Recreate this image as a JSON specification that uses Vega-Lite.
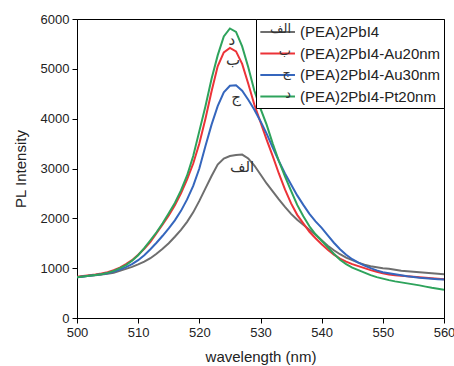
{
  "$schema": "https://vega.github.io/schema/vega-lite/v6.json",
  "autosize": "none",
  "width": 367,
  "height": 299,
  "padding": {"left": 77, "top": 19, "right": 10, "bottom": 48},
  "background": "white",
  "config": {
    "font": "Liberation Sans",
    "view": {"stroke": "#000", "strokeWidth": 1},
    "axis": {"domainColor": "#000", "tickColor": "#000", "labelColor": "#222", "titleColor": "#222", "grid": false, "labelFontSize": 13, "titleFontSize": 15, "titleFontWeight": "normal", "labelFont": "Liberation Sans", "titleFont": "Liberation Sans"},
    "legend": {"labelFont": "Liberation Sans"}
  },
  "datasets": {
    "spec": [
      {"w":500,"s":"(PEA)2PbI4","v":820},{"w":501,"s":"(PEA)2PbI4","v":835},{"w":502,"s":"(PEA)2PbI4","v":850},{"w":503,"s":"(PEA)2PbI4","v":860},{"w":504,"s":"(PEA)2PbI4","v":875},{"w":505,"s":"(PEA)2PbI4","v":890},{"w":506,"s":"(PEA)2PbI4","v":910},{"w":507,"s":"(PEA)2PbI4","v":945},{"w":508,"s":"(PEA)2PbI4","v":985},{"w":509,"s":"(PEA)2PbI4","v":1025},{"w":510,"s":"(PEA)2PbI4","v":1075},{"w":511,"s":"(PEA)2PbI4","v":1130},{"w":512,"s":"(PEA)2PbI4","v":1200},{"w":513,"s":"(PEA)2PbI4","v":1290},{"w":514,"s":"(PEA)2PbI4","v":1390},{"w":515,"s":"(PEA)2PbI4","v":1500},{"w":516,"s":"(PEA)2PbI4","v":1630},{"w":517,"s":"(PEA)2PbI4","v":1770},{"w":518,"s":"(PEA)2PbI4","v":1930},{"w":519,"s":"(PEA)2PbI4","v":2120},{"w":520,"s":"(PEA)2PbI4","v":2350},{"w":521,"s":"(PEA)2PbI4","v":2600},{"w":522,"s":"(PEA)2PbI4","v":2850},{"w":523,"s":"(PEA)2PbI4","v":3080},{"w":524,"s":"(PEA)2PbI4","v":3200},{"w":525,"s":"(PEA)2PbI4","v":3250},{"w":526,"s":"(PEA)2PbI4","v":3270},{"w":527,"s":"(PEA)2PbI4","v":3280},{"w":528,"s":"(PEA)2PbI4","v":3200},{"w":529,"s":"(PEA)2PbI4","v":3060},{"w":530,"s":"(PEA)2PbI4","v":2880},{"w":531,"s":"(PEA)2PbI4","v":2700},{"w":532,"s":"(PEA)2PbI4","v":2540},{"w":533,"s":"(PEA)2PbI4","v":2380},{"w":534,"s":"(PEA)2PbI4","v":2230},{"w":535,"s":"(PEA)2PbI4","v":2090},{"w":536,"s":"(PEA)2PbI4","v":1970},{"w":537,"s":"(PEA)2PbI4","v":1870},{"w":538,"s":"(PEA)2PbI4","v":1770},{"w":539,"s":"(PEA)2PbI4","v":1670},{"w":540,"s":"(PEA)2PbI4","v":1560},{"w":541,"s":"(PEA)2PbI4","v":1450},{"w":542,"s":"(PEA)2PbI4","v":1360},{"w":543,"s":"(PEA)2PbI4","v":1280},{"w":544,"s":"(PEA)2PbI4","v":1210},{"w":545,"s":"(PEA)2PbI4","v":1160},{"w":546,"s":"(PEA)2PbI4","v":1110},{"w":547,"s":"(PEA)2PbI4","v":1070},{"w":548,"s":"(PEA)2PbI4","v":1040},{"w":549,"s":"(PEA)2PbI4","v":1020},{"w":550,"s":"(PEA)2PbI4","v":1000},{"w":551,"s":"(PEA)2PbI4","v":990},{"w":552,"s":"(PEA)2PbI4","v":970},{"w":553,"s":"(PEA)2PbI4","v":950},{"w":554,"s":"(PEA)2PbI4","v":940},{"w":555,"s":"(PEA)2PbI4","v":930},{"w":556,"s":"(PEA)2PbI4","v":920},{"w":557,"s":"(PEA)2PbI4","v":910},{"w":558,"s":"(PEA)2PbI4","v":900},{"w":559,"s":"(PEA)2PbI4","v":890},{"w":560,"s":"(PEA)2PbI4","v":880},

      {"w":500,"s":"(PEA)2PbI4-Au20nm","v":830},{"w":501,"s":"(PEA)2PbI4-Au20nm","v":845},{"w":502,"s":"(PEA)2PbI4-Au20nm","v":860},{"w":503,"s":"(PEA)2PbI4-Au20nm","v":875},{"w":504,"s":"(PEA)2PbI4-Au20nm","v":895},{"w":505,"s":"(PEA)2PbI4-Au20nm","v":920},{"w":506,"s":"(PEA)2PbI4-Au20nm","v":960},{"w":507,"s":"(PEA)2PbI4-Au20nm","v":1010},{"w":508,"s":"(PEA)2PbI4-Au20nm","v":1080},{"w":509,"s":"(PEA)2PbI4-Au20nm","v":1160},{"w":510,"s":"(PEA)2PbI4-Au20nm","v":1270},{"w":511,"s":"(PEA)2PbI4-Au20nm","v":1390},{"w":512,"s":"(PEA)2PbI4-Au20nm","v":1530},{"w":513,"s":"(PEA)2PbI4-Au20nm","v":1700},{"w":514,"s":"(PEA)2PbI4-Au20nm","v":1880},{"w":515,"s":"(PEA)2PbI4-Au20nm","v":2060},{"w":516,"s":"(PEA)2PbI4-Au20nm","v":2260},{"w":517,"s":"(PEA)2PbI4-Au20nm","v":2500},{"w":518,"s":"(PEA)2PbI4-Au20nm","v":2780},{"w":519,"s":"(PEA)2PbI4-Au20nm","v":3100},{"w":520,"s":"(PEA)2PbI4-Au20nm","v":3500},{"w":521,"s":"(PEA)2PbI4-Au20nm","v":4000},{"w":522,"s":"(PEA)2PbI4-Au20nm","v":4550},{"w":523,"s":"(PEA)2PbI4-Au20nm","v":5050},{"w":524,"s":"(PEA)2PbI4-Au20nm","v":5330},{"w":525,"s":"(PEA)2PbI4-Au20nm","v":5420},{"w":526,"s":"(PEA)2PbI4-Au20nm","v":5350},{"w":527,"s":"(PEA)2PbI4-Au20nm","v":5100},{"w":528,"s":"(PEA)2PbI4-Au20nm","v":4700},{"w":529,"s":"(PEA)2PbI4-Au20nm","v":4280},{"w":530,"s":"(PEA)2PbI4-Au20nm","v":3930},{"w":531,"s":"(PEA)2PbI4-Au20nm","v":3580},{"w":532,"s":"(PEA)2PbI4-Au20nm","v":3250},{"w":533,"s":"(PEA)2PbI4-Au20nm","v":2900},{"w":534,"s":"(PEA)2PbI4-Au20nm","v":2580},{"w":535,"s":"(PEA)2PbI4-Au20nm","v":2300},{"w":536,"s":"(PEA)2PbI4-Au20nm","v":2070},{"w":537,"s":"(PEA)2PbI4-Au20nm","v":1900},{"w":538,"s":"(PEA)2PbI4-Au20nm","v":1730},{"w":539,"s":"(PEA)2PbI4-Au20nm","v":1600},{"w":540,"s":"(PEA)2PbI4-Au20nm","v":1480},{"w":541,"s":"(PEA)2PbI4-Au20nm","v":1370},{"w":542,"s":"(PEA)2PbI4-Au20nm","v":1270},{"w":543,"s":"(PEA)2PbI4-Au20nm","v":1190},{"w":544,"s":"(PEA)2PbI4-Au20nm","v":1130},{"w":545,"s":"(PEA)2PbI4-Au20nm","v":1080},{"w":546,"s":"(PEA)2PbI4-Au20nm","v":1040},{"w":547,"s":"(PEA)2PbI4-Au20nm","v":1000},{"w":548,"s":"(PEA)2PbI4-Au20nm","v":960},{"w":549,"s":"(PEA)2PbI4-Au20nm","v":930},{"w":550,"s":"(PEA)2PbI4-Au20nm","v":900},{"w":551,"s":"(PEA)2PbI4-Au20nm","v":875},{"w":552,"s":"(PEA)2PbI4-Au20nm","v":860},{"w":553,"s":"(PEA)2PbI4-Au20nm","v":850},{"w":554,"s":"(PEA)2PbI4-Au20nm","v":840},{"w":555,"s":"(PEA)2PbI4-Au20nm","v":830},{"w":556,"s":"(PEA)2PbI4-Au20nm","v":820},{"w":557,"s":"(PEA)2PbI4-Au20nm","v":810},{"w":558,"s":"(PEA)2PbI4-Au20nm","v":800},{"w":559,"s":"(PEA)2PbI4-Au20nm","v":790},{"w":560,"s":"(PEA)2PbI4-Au20nm","v":780},

      {"w":500,"s":"(PEA)2PbI4-Au30nm","v":820},{"w":501,"s":"(PEA)2PbI4-Au30nm","v":835},{"w":502,"s":"(PEA)2PbI4-Au30nm","v":850},{"w":503,"s":"(PEA)2PbI4-Au30nm","v":865},{"w":504,"s":"(PEA)2PbI4-Au30nm","v":880},{"w":505,"s":"(PEA)2PbI4-Au30nm","v":900},{"w":506,"s":"(PEA)2PbI4-Au30nm","v":930},{"w":507,"s":"(PEA)2PbI4-Au30nm","v":970},{"w":508,"s":"(PEA)2PbI4-Au30nm","v":1020},{"w":509,"s":"(PEA)2PbI4-Au30nm","v":1080},{"w":510,"s":"(PEA)2PbI4-Au30nm","v":1160},{"w":511,"s":"(PEA)2PbI4-Au30nm","v":1260},{"w":512,"s":"(PEA)2PbI4-Au30nm","v":1380},{"w":513,"s":"(PEA)2PbI4-Au30nm","v":1510},{"w":514,"s":"(PEA)2PbI4-Au30nm","v":1650},{"w":515,"s":"(PEA)2PbI4-Au30nm","v":1800},{"w":516,"s":"(PEA)2PbI4-Au30nm","v":1960},{"w":517,"s":"(PEA)2PbI4-Au30nm","v":2150},{"w":518,"s":"(PEA)2PbI4-Au30nm","v":2380},{"w":519,"s":"(PEA)2PbI4-Au30nm","v":2650},{"w":520,"s":"(PEA)2PbI4-Au30nm","v":3000},{"w":521,"s":"(PEA)2PbI4-Au30nm","v":3450},{"w":522,"s":"(PEA)2PbI4-Au30nm","v":3880},{"w":523,"s":"(PEA)2PbI4-Au30nm","v":4250},{"w":524,"s":"(PEA)2PbI4-Au30nm","v":4530},{"w":525,"s":"(PEA)2PbI4-Au30nm","v":4660},{"w":526,"s":"(PEA)2PbI4-Au30nm","v":4670},{"w":527,"s":"(PEA)2PbI4-Au30nm","v":4560},{"w":528,"s":"(PEA)2PbI4-Au30nm","v":4380},{"w":529,"s":"(PEA)2PbI4-Au30nm","v":4180},{"w":530,"s":"(PEA)2PbI4-Au30nm","v":3950},{"w":531,"s":"(PEA)2PbI4-Au30nm","v":3700},{"w":532,"s":"(PEA)2PbI4-Au30nm","v":3420},{"w":533,"s":"(PEA)2PbI4-Au30nm","v":3150},{"w":534,"s":"(PEA)2PbI4-Au30nm","v":2900},{"w":535,"s":"(PEA)2PbI4-Au30nm","v":2680},{"w":536,"s":"(PEA)2PbI4-Au30nm","v":2460},{"w":537,"s":"(PEA)2PbI4-Au30nm","v":2270},{"w":538,"s":"(PEA)2PbI4-Au30nm","v":2090},{"w":539,"s":"(PEA)2PbI4-Au30nm","v":1940},{"w":540,"s":"(PEA)2PbI4-Au30nm","v":1810},{"w":541,"s":"(PEA)2PbI4-Au30nm","v":1660},{"w":542,"s":"(PEA)2PbI4-Au30nm","v":1510},{"w":543,"s":"(PEA)2PbI4-Au30nm","v":1380},{"w":544,"s":"(PEA)2PbI4-Au30nm","v":1270},{"w":545,"s":"(PEA)2PbI4-Au30nm","v":1180},{"w":546,"s":"(PEA)2PbI4-Au30nm","v":1110},{"w":547,"s":"(PEA)2PbI4-Au30nm","v":1050},{"w":548,"s":"(PEA)2PbI4-Au30nm","v":1000},{"w":549,"s":"(PEA)2PbI4-Au30nm","v":955},{"w":550,"s":"(PEA)2PbI4-Au30nm","v":920},{"w":551,"s":"(PEA)2PbI4-Au30nm","v":900},{"w":552,"s":"(PEA)2PbI4-Au30nm","v":880},{"w":553,"s":"(PEA)2PbI4-Au30nm","v":860},{"w":554,"s":"(PEA)2PbI4-Au30nm","v":840},{"w":555,"s":"(PEA)2PbI4-Au30nm","v":825},{"w":556,"s":"(PEA)2PbI4-Au30nm","v":810},{"w":557,"s":"(PEA)2PbI4-Au30nm","v":800},{"w":558,"s":"(PEA)2PbI4-Au30nm","v":790},{"w":559,"s":"(PEA)2PbI4-Au30nm","v":780},{"w":560,"s":"(PEA)2PbI4-Au30nm","v":770},

      {"w":500,"s":"(PEA)2PbI4-Pt20nm","v":820},{"w":501,"s":"(PEA)2PbI4-Pt20nm","v":835},{"w":502,"s":"(PEA)2PbI4-Pt20nm","v":850},{"w":503,"s":"(PEA)2PbI4-Pt20nm","v":865},{"w":504,"s":"(PEA)2PbI4-Pt20nm","v":880},{"w":505,"s":"(PEA)2PbI4-Pt20nm","v":905},{"w":506,"s":"(PEA)2PbI4-Pt20nm","v":945},{"w":507,"s":"(PEA)2PbI4-Pt20nm","v":1000},{"w":508,"s":"(PEA)2PbI4-Pt20nm","v":1060},{"w":509,"s":"(PEA)2PbI4-Pt20nm","v":1150},{"w":510,"s":"(PEA)2PbI4-Pt20nm","v":1260},{"w":511,"s":"(PEA)2PbI4-Pt20nm","v":1400},{"w":512,"s":"(PEA)2PbI4-Pt20nm","v":1560},{"w":513,"s":"(PEA)2PbI4-Pt20nm","v":1720},{"w":514,"s":"(PEA)2PbI4-Pt20nm","v":1900},{"w":515,"s":"(PEA)2PbI4-Pt20nm","v":2100},{"w":516,"s":"(PEA)2PbI4-Pt20nm","v":2310},{"w":517,"s":"(PEA)2PbI4-Pt20nm","v":2560},{"w":518,"s":"(PEA)2PbI4-Pt20nm","v":2860},{"w":519,"s":"(PEA)2PbI4-Pt20nm","v":3250},{"w":520,"s":"(PEA)2PbI4-Pt20nm","v":3750},{"w":521,"s":"(PEA)2PbI4-Pt20nm","v":4250},{"w":522,"s":"(PEA)2PbI4-Pt20nm","v":4800},{"w":523,"s":"(PEA)2PbI4-Pt20nm","v":5270},{"w":524,"s":"(PEA)2PbI4-Pt20nm","v":5650},{"w":525,"s":"(PEA)2PbI4-Pt20nm","v":5810},{"w":526,"s":"(PEA)2PbI4-Pt20nm","v":5740},{"w":527,"s":"(PEA)2PbI4-Pt20nm","v":5450},{"w":528,"s":"(PEA)2PbI4-Pt20nm","v":5030},{"w":529,"s":"(PEA)2PbI4-Pt20nm","v":4560},{"w":530,"s":"(PEA)2PbI4-Pt20nm","v":4200},{"w":531,"s":"(PEA)2PbI4-Pt20nm","v":3880},{"w":532,"s":"(PEA)2PbI4-Pt20nm","v":3500},{"w":533,"s":"(PEA)2PbI4-Pt20nm","v":3150},{"w":534,"s":"(PEA)2PbI4-Pt20nm","v":2840},{"w":535,"s":"(PEA)2PbI4-Pt20nm","v":2550},{"w":536,"s":"(PEA)2PbI4-Pt20nm","v":2270},{"w":537,"s":"(PEA)2PbI4-Pt20nm","v":2040},{"w":538,"s":"(PEA)2PbI4-Pt20nm","v":1840},{"w":539,"s":"(PEA)2PbI4-Pt20nm","v":1680},{"w":540,"s":"(PEA)2PbI4-Pt20nm","v":1550},{"w":541,"s":"(PEA)2PbI4-Pt20nm","v":1420},{"w":542,"s":"(PEA)2PbI4-Pt20nm","v":1290},{"w":543,"s":"(PEA)2PbI4-Pt20nm","v":1170},{"w":544,"s":"(PEA)2PbI4-Pt20nm","v":1080},{"w":545,"s":"(PEA)2PbI4-Pt20nm","v":1010},{"w":546,"s":"(PEA)2PbI4-Pt20nm","v":960},{"w":547,"s":"(PEA)2PbI4-Pt20nm","v":910},{"w":548,"s":"(PEA)2PbI4-Pt20nm","v":860},{"w":549,"s":"(PEA)2PbI4-Pt20nm","v":820},{"w":550,"s":"(PEA)2PbI4-Pt20nm","v":790},{"w":551,"s":"(PEA)2PbI4-Pt20nm","v":760},{"w":552,"s":"(PEA)2PbI4-Pt20nm","v":735},{"w":553,"s":"(PEA)2PbI4-Pt20nm","v":715},{"w":554,"s":"(PEA)2PbI4-Pt20nm","v":695},{"w":555,"s":"(PEA)2PbI4-Pt20nm","v":675},{"w":556,"s":"(PEA)2PbI4-Pt20nm","v":655},{"w":557,"s":"(PEA)2PbI4-Pt20nm","v":630},{"w":558,"s":"(PEA)2PbI4-Pt20nm","v":605},{"w":559,"s":"(PEA)2PbI4-Pt20nm","v":585},{"w":560,"s":"(PEA)2PbI4-Pt20nm","v":565}
    ],
    "tags": [
      {"w":525.3,"v":5810,"t":"د"},
      {"w":525.5,"v":5420,"t":"ب"},
      {"w":526.0,"v":4670,"t":"ج"},
      {"w":527.0,"v":3280,"t":"الف"}
    ]
  },
  "layer": [
    {
      "data": {"name": "spec"},
      "mark": {"type": "line", "strokeWidth": 2, "clip": true},
      "encoding": {
        "x": {"field": "w", "type": "quantitative", "scale": {"domain": [500, 560], "nice": false},
              "axis": {"title": "wavelength (nm)", "values": [500,505,510,515,520,525,530,535,540,545,550,555,560],
                       "labelExpr": "datum.value % 10 == 0 ? datum.label : ''", "labelFlush": false,
                       "tickSize": {"condition": {"test": "datum.value % 10 == 0", "value": 5}, "value": 3},
                       "labelPadding": 3, "titlePadding": 10}},
        "y": {"field": "v", "type": "quantitative", "scale": {"domain": [0, 6000], "nice": false},
              "axis": {"title": "PL Intensity", "format": "d", "values": [0,500,1000,1500,2000,2500,3000,3500,4000,4500,5000,5500,6000],
                       "labelExpr": "datum.value % 1000 == 0 ? datum.label : ''",
                       "tickSize": {"condition": {"test": "datum.value % 1000 == 0", "value": 5}, "value": 3},
                       "labelPadding": 3, "titlePadding": 12}},
        "color": {"field": "s", "type": "nominal",
          "scale": {"domain": ["(PEA)2PbI4","(PEA)2PbI4-Au20nm","(PEA)2PbI4-Au30nm","(PEA)2PbI4-Pt20nm"],
                    "range": ["#6e6e6e","#ec3338","#3566bd","#2ea35c"]},
          "legend": {"title": null, "orient": "top-right", "offset": 0, "strokeColor": "#000", "fillColor": "#fff", "padding": 3,
                     "symbolType": "M-1,0H3", "symbolSize": 300, "symbolStrokeWidth": 2, "labelFontSize": 15, "labelLimit": 400, "labelColor": "#222", "labelOffset": 21, "rowPadding": 3.5}
        }
      }
    },
    {
      "data": {"name": "tags"},
      "mark": {"type": "point", "opacity": 0},
      "encoding": {
        "x": {"field": "w", "type": "quantitative"},
        "y": {"field": "v", "type": "quantitative"},
        "shape": {"field": "t", "type": "nominal", "scale": {"domain": ["الف","ب","ج","د"]},
          "legend": {"title": null, "orient": "none", "legendX": 201, "legendY": 7.5, "padding": 0, "symbolOpacity": 0, "symbolSize": 4,
                     "labelFont": "DejaVu Sans", "labelFontSize": 13, "labelColor": "#333", "labelAlign": "right", "labelBaseline": "alphabetic", "labelOffset": 0, "rowPadding": 7.8, "zindex": 5}
        }
      }
    },
    {
      "data": {"name": "tags"},
      "mark": {"type": "text", "fontSize": 15, "color": "#333", "dy": 12, "font": "DejaVu Sans"},
      "encoding": {
        "x": {"field": "w", "type": "quantitative"},
        "y": {"field": "v", "type": "quantitative"},
        "text": {"field": "t"}
      }
    }
  ]
}
